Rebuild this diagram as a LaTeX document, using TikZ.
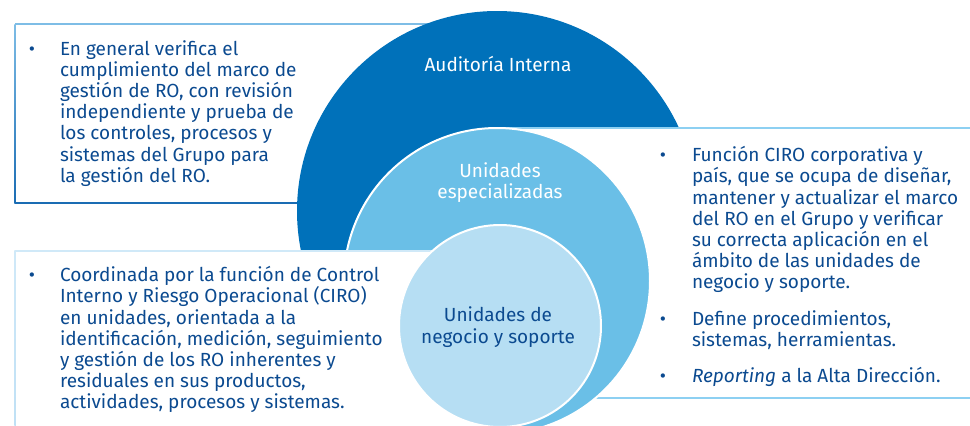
\documentclass[tikz,border=0pt]{standalone}
\usepackage{fontspec}
\setmainfont{Fira Sans}
\definecolor{cdark}{HTML}{0071BA}
\definecolor{cmed}{HTML}{6ABFE7}
\definecolor{clight}{HTML}{B6DEF3}
\definecolor{ctext}{HTML}{0B4A90}
\definecolor{lineR}{HTML}{8DD0F2}
\definecolor{lineTLa}{HTML}{7EBDE6}
\definecolor{lineTLb}{HTML}{1A6CB3}
\definecolor{lineBLa}{HTML}{D0E9F8}
\definecolor{lineBLb}{HTML}{BFE0F5}
\newcommand\myLeftLines[1]{\vtop{\baselineskip=21.2pt\halign{##\hfil\cr#1\crcr}}}
\newcommand\myCtrLines[1]{\vtop{\baselineskip=21.3pt\halign{\hfil##\hfil\cr#1\crcr}}}
\tikzset{
  txt/.style={inner sep=0pt, outer sep=0pt, text=ctext, font=\fontsize{19}{21.2}\selectfont},
  lbl/.style={txt, anchor=base},
  para/.style={txt, anchor=base west},
  bul/.style={txt, anchor=base},
}
\begin{document}
\begin{tikzpicture}[x=1pt,y=-1pt]
\useasboundingbox (0,0) rectangle (970,426);
% top-left box borders
\draw[lineTLa, line width=1.5pt] (15,24) -- (440,24);
\draw[lineTLb, line width=1.5pt] (15,203) -- (320,203);
\shade[top color=lineTLa, bottom color=lineTLb] (14.25,24) rectangle (15.75,203.75);
% outer circle
\fill[cdark] (497,211) circle[radius=200pt];
% right box
\fill[white] (500,128) rectangle (970,398);
\draw[lineR, line width=1.5pt] (500,128) -- (970,128);
\draw[lineR, line width=1.5pt] (500,398) -- (970,398);
% middle circle
\fill[cmed, draw=white, line width=2pt] (497,281) circle[radius=153pt];
% bottom-left box
\fill[white] (15,251) rectangle (500,426);
\draw[lineBLa, line width=1.5pt] (15,251) -- (500,251);
\shade[top color=lineBLa, bottom color=lineBLb] (14.25,250.25) rectangle (15.75,426);
% inner circle
\fill[clight, draw=white, line width=2pt] (500,326) circle[radius=101pt];
% circle labels
\node[lbl, text=white] (auditoria) at (498,71.7) {Auditoría Interna};
\node[lbl, text=white] (especial) at (500,177) {\myCtrLines{Unidades\cr especializadas}};
\node[lbl] (negocio) at (498,321.7) {\myCtrLines{Unidades de\cr negocio y soporte}};
% top-left text
\node[bul] (b1) at (32,55) {•};
\node[para] (t1) at (60,55) {\myLeftLines{En general verifica el\cr cumplimiento del marco de\cr gestión de RO, con revisión\cr independiente y prueba de\cr los controles, procesos y\cr sistemas del Grupo para\cr la gestión del RO.}};
% bottom-left text
\node[bul] (b2) at (32,281.7) {•};
\node[para] (t2) at (60,281.7) {\myLeftLines{Coordinada por la función de Control\cr Interno y Riesgo Operacional (CIRO)\cr en unidades, orientada a la\cr identificación, medición, seguimiento\cr y gestión de los RO inherentes y\cr residuales en sus productos,\cr actividades, procesos y sistemas.}};
% right text
\node[bul] (b3) at (663,161.7) {•};
\node[para] (t3) at (692,161.7) {\myLeftLines{Función CIRO corporativa y\cr país, que se ocupa de diseñar,\cr mantener y actualizar el marco\cr del RO en el Grupo y verificar\cr su correcta aplicación en el\cr ámbito de las unidades de\cr negocio y soporte.}};
\node[bul] (b4) at (663,325) {•};
\node[para] (t4) at (692,325) {\myLeftLines{Define procedimientos,\cr sistemas, herramientas.}};
\node[bul] (b5) at (663,382.7) {•};
\node[para] (t5) at (692,382.7) {\textit{Reporting} a la Alta Dirección.};
\end{tikzpicture}
\end{document}
